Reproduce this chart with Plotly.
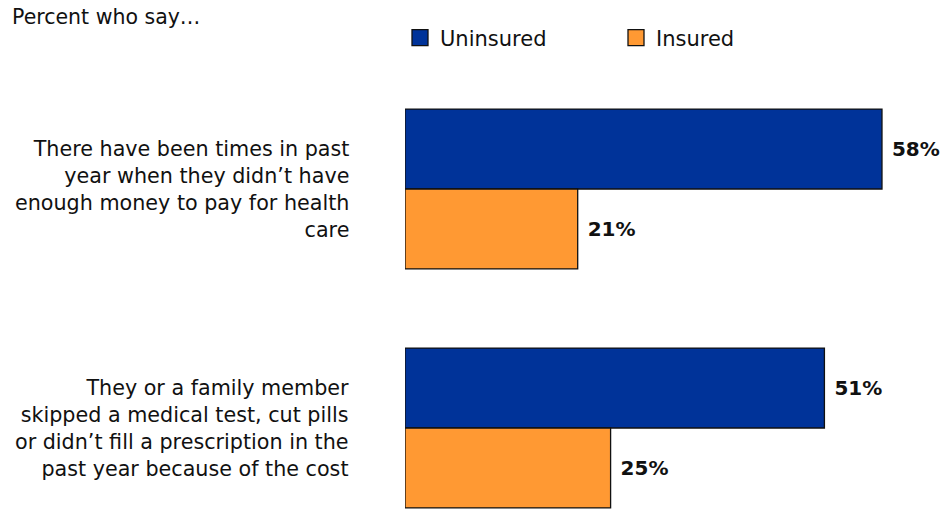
import plotly.graph_objects as go

categories = [
    "There have been times in past<br>year when they didn\u2019t have<br>enough money to pay for health<br>care",
    "They or a family member<br>skipped a medical test, cut pills<br>or didn\u2019t fill a prescription in the<br>past year because of the cost",
]
uninsured = [58, 51]
insured = [21, 25]
series_names = ["Uninsured", "Insured"]
colors = ["#003399", "#FF9933"]

W, H = 942, 509
L, R, T, B = 405, 0, 100, 0
pw, ph = W - L - R, H - T - B

FONT = "DejaVu Sans"
fig = go.Figure()
for name, vals, col in zip(series_names, [uninsured, insured], colors):
    fig.add_trace(go.Bar(
        y=[0, 1], x=vals, name=name, orientation="h", showlegend=False,
        marker=dict(color=col, line=dict(color="#111111", width=1.3)),
        text=[f"\u00a0{v}%" for v in vals], textposition="outside",
        textfont=dict(family=FONT, size=20, color="#111111", weight="bold"),
        cliponaxis=False,
    ))
for name, col in zip(series_names, colors):
    fig.add_trace(go.Scatter(
        x=[None], y=[None], mode="markers", name=name,
        marker=dict(symbol="square", size=22, color=col, line=dict(color="#111111", width=1.3)),
    ))

fig.update_layout(
    width=W, height=H, barmode="group", bargap=0.331, bargroupgap=0,
    margin=dict(l=L, r=R, t=T, b=B),
    plot_bgcolor="white", paper_bgcolor="white",
    font=dict(family=FONT, size=20, color="#111111"),
    xaxis=dict(range=[0, pw / 8.224], visible=False),
    yaxis=dict(range=[1 + (509 - 428) / 239, -(189 - 100) / 239], visible=False),
    showlegend=True,
    legend=dict(orientation="h", x=(400 - L) / pw, xanchor="left", y=(H - 38) / ph, yanchor="middle",
                yref="paper", entrywidth=171, entrywidthmode="pixels", itemsizing="trace",
                font=dict(family=FONT, size=21, color="#111111"), traceorder="normal"),
)

for i, c in enumerate(categories):
    fig.add_annotation(x=(351 - L) / pw, xref="paper", y=i, yref="y", text=c,
                       showarrow=False, xanchor="right", yanchor="middle", align="right",
                       font=dict(family=FONT, size=20.7, color="#111111"))

fig.add_annotation(x=(10 - L) / pw, xref="paper", y=(H - 17) / ph, yref="paper",
                   text="Percent who say\u2026", showarrow=False, xanchor="left", yanchor="middle",
                   font=dict(family=FONT, size=20.5, color="#111111"))

fig.write_html("out.html")
